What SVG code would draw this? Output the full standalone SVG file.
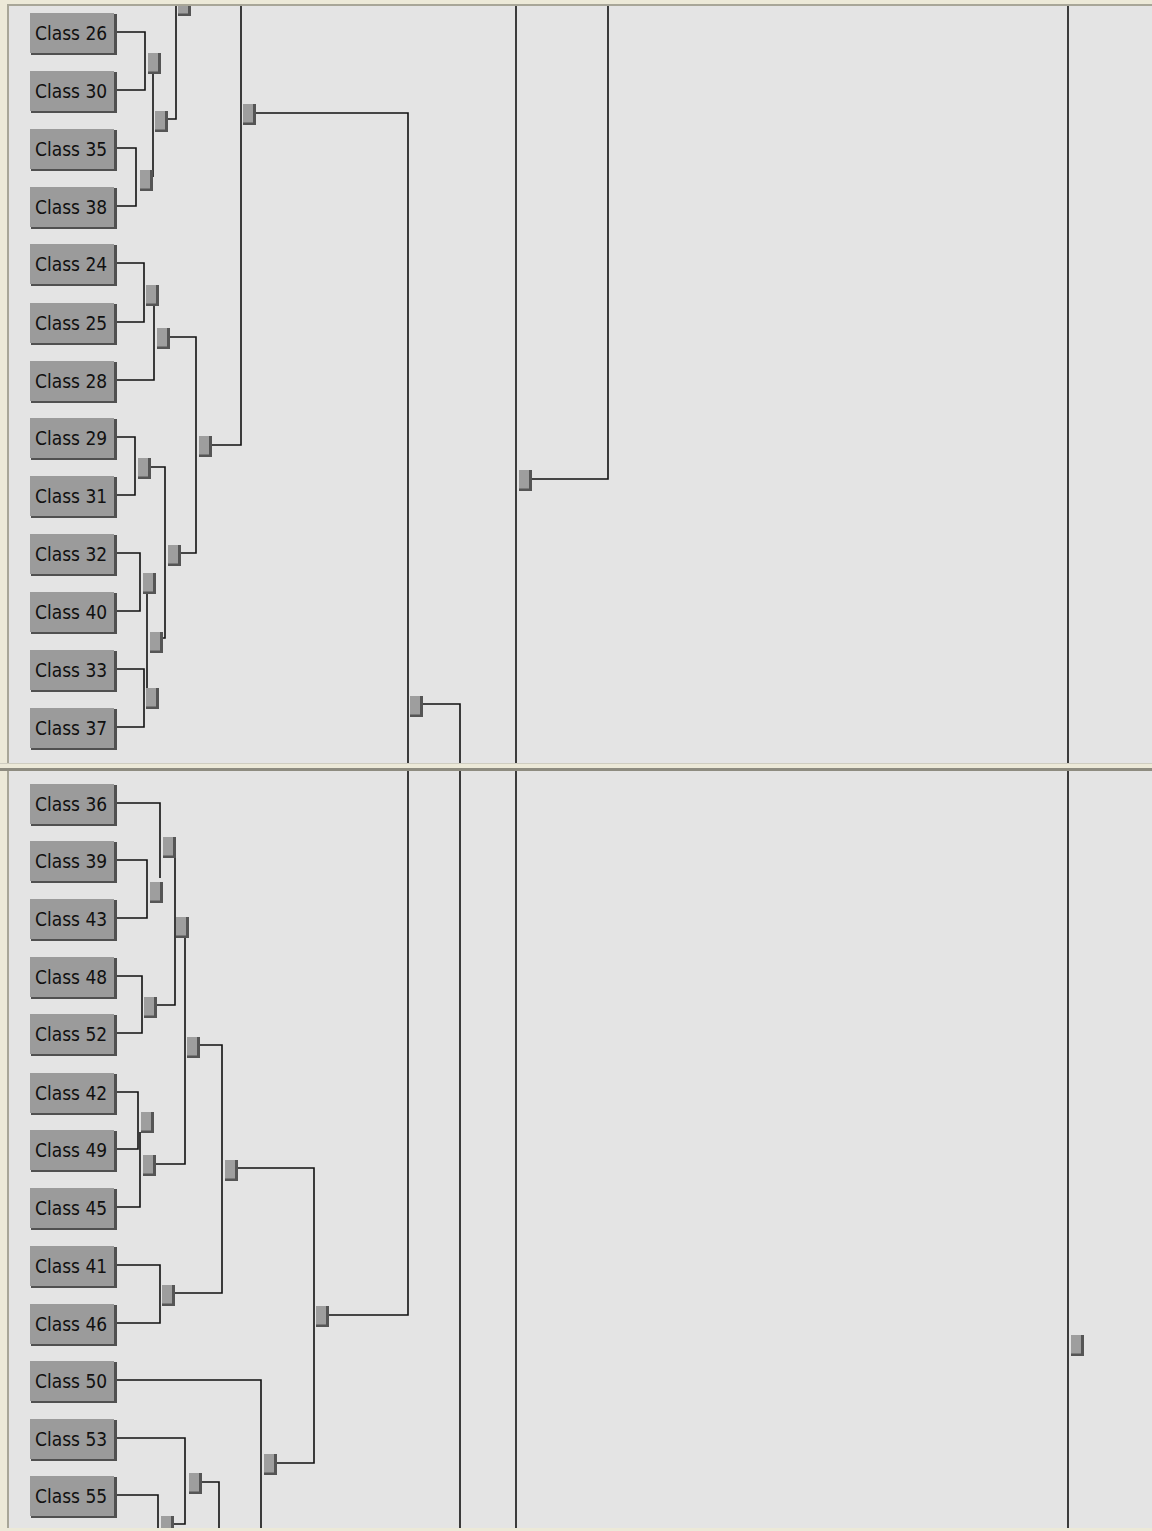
<svg xmlns="http://www.w3.org/2000/svg" xmlns:xlink="http://www.w3.org/1999/xlink" width="1152" height="1531" viewBox="0 0 1152 1531">
<style>
.bg{fill:#e4e4e4}
.frame{fill:#ece9d8}
.node .sh{fill:#505050}
.node .bd{fill:#9b9b9b}
.node text{font-family:"DejaVu Sans Condensed","DejaVu Sans",sans-serif;font-stretch:condensed;font-size:19px;fill:#111}
.links path{fill:none;stroke:#111;stroke-width:1.6}
</style>
<defs>
<g id="sq"><rect x="0" y="0" width="13" height="21" fill="#555"/><rect x="0" y="0" width="10" height="18.5" fill="#9e9e9e"/></g>
</defs>
<rect class="bg" x="0" y="0" width="1152" height="1531"/>
<g class="links">
<path d="M116,32H145V90H116"/>
<path d="M153,73V177"/>
<path d="M116,148H136V206H116"/>
<path d="M168,119H176V0"/>
<path d="M116,263H144V322H116"/>
<path d="M116,380H154V305"/>
<path d="M170,337H196V553H181"/>
<path d="M150,467H165V638H163"/>
<path d="M116,437H135V495H116"/>
<path d="M116,553H140V611H116"/>
<path d="M116,669H144V727H116"/>
<path d="M147,593V688"/>
<path d="M212,445H241V0"/>
<path d="M256,113H408V1315H329"/>
<path d="M532,479H608V0"/>
<path d="M516,0V1531"/>
<path d="M1068,0V1531"/>
<path d="M423,704H460V1531"/>
<path d="M116,803H160V878"/>
<path d="M116,860H147V918H116"/>
<path d="M175,857V1005H157"/>
<path d="M116,976H142V1033H116"/>
<path d="M185,937V1164H155"/>
<path d="M200,1045H222V1293H175"/>
<path d="M116,1092H138V1149H116"/>
<path d="M140,1132V1207H116"/>
<path d="M116,1265H160V1323H116"/>
<path d="M238,1168H314V1463H276"/>
<path d="M116,1380H261V1531"/>
<path d="M116,1438H185V1524H173"/>
<path d="M201,1482H219V1531"/>
<path d="M116,1495H158V1531"/>
</g>
<g id="junctions">
<use xlink:href="#sq" x="178" y="-5"/>
<use xlink:href="#sq" x="155" y="111"/>
<use xlink:href="#sq" x="148" y="53"/>
<use xlink:href="#sq" x="140" y="170"/>
<use xlink:href="#sq" x="146" y="285"/>
<use xlink:href="#sq" x="157" y="328"/>
<use xlink:href="#sq" x="199" y="436"/>
<use xlink:href="#sq" x="138" y="458"/>
<use xlink:href="#sq" x="168" y="545"/>
<use xlink:href="#sq" x="143" y="573"/>
<use xlink:href="#sq" x="150" y="632"/>
<use xlink:href="#sq" x="146" y="688"/>
<use xlink:href="#sq" x="243" y="104"/>
<use xlink:href="#sq" x="519" y="470"/>
<use xlink:href="#sq" x="410" y="696"/>
<use xlink:href="#sq" x="150" y="882"/>
<use xlink:href="#sq" x="163" y="837"/>
<use xlink:href="#sq" x="176" y="917"/>
<use xlink:href="#sq" x="144" y="997"/>
<use xlink:href="#sq" x="187" y="1037"/>
<use xlink:href="#sq" x="141" y="1112"/>
<use xlink:href="#sq" x="143" y="1155"/>
<use xlink:href="#sq" x="225" y="1160"/>
<use xlink:href="#sq" x="162" y="1285"/>
<use xlink:href="#sq" x="316" y="1306"/>
<use xlink:href="#sq" x="264" y="1454"/>
<use xlink:href="#sq" x="189" y="1473"/>
<use xlink:href="#sq" x="161" y="1516"/>
<use xlink:href="#sq" x="1071" y="1335"/>
</g>
<g id="n26" class="node"><rect class="sh" x="31" y="14" width="86" height="41"/><rect class="bd" x="30" y="13" width="84" height="40"/><text x="35" y="40">Class 26</text></g>
<g id="n30" class="node"><rect class="sh" x="31" y="72" width="86" height="41"/><rect class="bd" x="30" y="71" width="84" height="40"/><text x="35" y="98">Class 30</text></g>
<g id="n35" class="node"><rect class="sh" x="31" y="130" width="86" height="41"/><rect class="bd" x="30" y="129" width="84" height="40"/><text x="35" y="156">Class 35</text></g>
<g id="n38" class="node"><rect class="sh" x="31" y="188" width="86" height="41"/><rect class="bd" x="30" y="187" width="84" height="40"/><text x="35" y="214">Class 38</text></g>
<g id="n24" class="node"><rect class="sh" x="31" y="245" width="86" height="41"/><rect class="bd" x="30" y="244" width="84" height="40"/><text x="35" y="271">Class 24</text></g>
<g id="n25" class="node"><rect class="sh" x="31" y="304" width="86" height="41"/><rect class="bd" x="30" y="303" width="84" height="40"/><text x="35" y="330">Class 25</text></g>
<g id="n28" class="node"><rect class="sh" x="31" y="362" width="86" height="41"/><rect class="bd" x="30" y="361" width="84" height="40"/><text x="35" y="388">Class 28</text></g>
<g id="n29" class="node"><rect class="sh" x="31" y="419" width="86" height="41"/><rect class="bd" x="30" y="418" width="84" height="40"/><text x="35" y="445">Class 29</text></g>
<g id="n31" class="node"><rect class="sh" x="31" y="477" width="86" height="41"/><rect class="bd" x="30" y="476" width="84" height="40"/><text x="35" y="503">Class 31</text></g>
<g id="n32" class="node"><rect class="sh" x="31" y="535" width="86" height="41"/><rect class="bd" x="30" y="534" width="84" height="40"/><text x="35" y="561">Class 32</text></g>
<g id="n40" class="node"><rect class="sh" x="31" y="593" width="86" height="41"/><rect class="bd" x="30" y="592" width="84" height="40"/><text x="35" y="619">Class 40</text></g>
<g id="n33" class="node"><rect class="sh" x="31" y="651" width="86" height="41"/><rect class="bd" x="30" y="650" width="84" height="40"/><text x="35" y="677">Class 33</text></g>
<g id="n37" class="node"><rect class="sh" x="31" y="709" width="86" height="41"/><rect class="bd" x="30" y="708" width="84" height="40"/><text x="35" y="735">Class 37</text></g>
<g id="n36" class="node"><rect class="sh" x="31" y="785" width="86" height="41"/><rect class="bd" x="30" y="784" width="84" height="40"/><text x="35" y="811">Class 36</text></g>
<g id="n39" class="node"><rect class="sh" x="31" y="842" width="86" height="41"/><rect class="bd" x="30" y="841" width="84" height="40"/><text x="35" y="868">Class 39</text></g>
<g id="n43" class="node"><rect class="sh" x="31" y="900" width="86" height="41"/><rect class="bd" x="30" y="899" width="84" height="40"/><text x="35" y="926">Class 43</text></g>
<g id="n48" class="node"><rect class="sh" x="31" y="958" width="86" height="41"/><rect class="bd" x="30" y="957" width="84" height="40"/><text x="35" y="984">Class 48</text></g>
<g id="n52" class="node"><rect class="sh" x="31" y="1015" width="86" height="41"/><rect class="bd" x="30" y="1014" width="84" height="40"/><text x="35" y="1041">Class 52</text></g>
<g id="n42" class="node"><rect class="sh" x="31" y="1074" width="86" height="41"/><rect class="bd" x="30" y="1073" width="84" height="40"/><text x="35" y="1100">Class 42</text></g>
<g id="n49" class="node"><rect class="sh" x="31" y="1131" width="86" height="41"/><rect class="bd" x="30" y="1130" width="84" height="40"/><text x="35" y="1157">Class 49</text></g>
<g id="n45" class="node"><rect class="sh" x="31" y="1189" width="86" height="41"/><rect class="bd" x="30" y="1188" width="84" height="40"/><text x="35" y="1215">Class 45</text></g>
<g id="n41" class="node"><rect class="sh" x="31" y="1247" width="86" height="41"/><rect class="bd" x="30" y="1246" width="84" height="40"/><text x="35" y="1273">Class 41</text></g>
<g id="n46" class="node"><rect class="sh" x="31" y="1305" width="86" height="41"/><rect class="bd" x="30" y="1304" width="84" height="40"/><text x="35" y="1331">Class 46</text></g>
<g id="n50" class="node"><rect class="sh" x="31" y="1362" width="86" height="41"/><rect class="bd" x="30" y="1361" width="84" height="40"/><text x="35" y="1388">Class 50</text></g>
<g id="n53" class="node"><rect class="sh" x="31" y="1420" width="86" height="41"/><rect class="bd" x="30" y="1419" width="84" height="40"/><text x="35" y="1446">Class 53</text></g>
<g id="n55" class="node"><rect class="sh" x="31" y="1477" width="86" height="41"/><rect class="bd" x="30" y="1476" width="84" height="40"/><text x="35" y="1503">Class 55</text></g>
<g id="frame">
<rect class="frame" x="0" y="0" width="1152" height="5"/>
<rect x="0" y="4" width="1152" height="2" fill="#a8a698"/>
<rect class="frame" x="0" y="0" width="7" height="1531"/>
<rect x="7" y="4" width="2" height="1527" fill="#a8a698"/>
<rect class="frame" x="0" y="763" width="1152" height="8"/>
<rect x="0" y="763" width="1152" height="1" fill="#cfcdc0"/>
<rect x="0" y="768" width="1152" height="3" fill="#8e8c80"/>
<rect class="frame" x="0" y="1528" width="1152" height="3"/>
</g>
</svg>
